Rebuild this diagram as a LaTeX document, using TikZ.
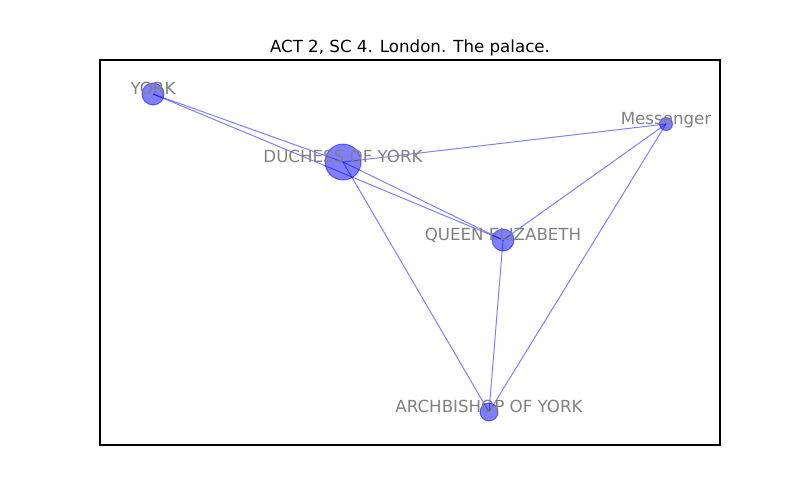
\documentclass[tikz,border=0pt]{standalone}
\usepackage{fontspec}
\setmainfont{DejaVu Sans}
\usetikzlibrary{backgrounds}

\begin{document}
\begin{tikzpicture}[x=0.72pt, y=-0.72pt]
        \tikzstyle{person} = [circle, draw=blue, fill=blue, opacity=0.5, inner sep=0pt, line width=0.72pt]
        \tikzstyle{tag} = [text=black!50, font=\fontsize{12pt}{14pt}\selectfont, anchor=base, inner sep=0pt]
        \tikzstyle{link} = [draw=blue, draw opacity=0.5, line width=0.72pt]

        \useasboundingbox (0,0) rectangle (800,500);
        \draw[line width=0.8pt] (100,60) rectangle (720,445);
        \node [anchor=base, inner sep=0pt, font=\fontsize{12pt}{14pt}\selectfont] (title) at (410,52) {ACT 2, SC 4. London. The palace.};

        \node [person, minimum size=22pt*0.72] (york) at (153,94) {};
        \node [person, minimum size=36pt*0.72] (duchess) at (343,162) {};
        \node [person, minimum size=13pt*0.72] (messenger) at (666,124) {};
        \node [person, minimum size=22pt*0.72] (queen) at (503,240) {};
        \node [person, minimum size=18pt*0.72] (archbishop) at (489,412) {};

        \begin{pgfonlayer}{background}
        \path [link] (york.center) -- (duchess.center);
        \path [link] (york.center) -- (queen.center);
        \path [link] (duchess.center) -- (messenger.center);
        \path [link] (duchess.center) -- (queen.center);
        \path [link] (duchess.center) -- (archbishop.center);
        \path [link] (messenger.center) -- (queen.center);
        \path [link] (messenger.center) -- (archbishop.center);
        \path [link] (queen.center) -- (archbishop.center);
        \end{pgfonlayer}

        \node [tag] (yorktag) at (york.center) {YORK};
        \node [tag] (duchesstag) at (duchess.center) {DUCHESS OF YORK};
        \node [tag] (messengertag) at (messenger.center) {Messenger};
        \node [tag] (queentag) at (queen.center) {QUEEN ELIZABETH};
        \node [tag] (archbishoptag) at (archbishop.center) {ARCHBISHOP OF YORK};
    \end{tikzpicture}
\end{document}
